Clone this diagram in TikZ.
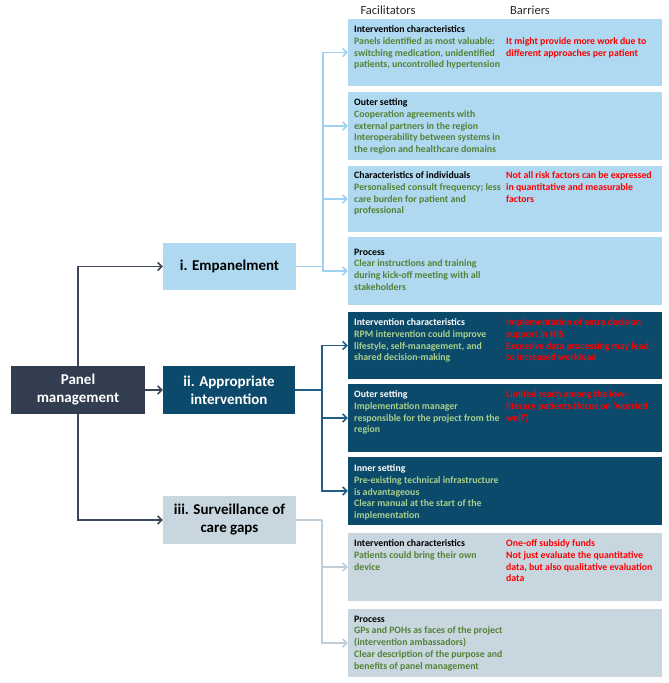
\documentclass[tikz,border=0pt]{standalone}
\usepackage{fontspec}
\setmainfont{Carlito}
\usetikzlibrary{arrows.meta}
\definecolor{lblue}{RGB}{174,217,240}
\definecolor{dblue}{RGB}{12,74,107}
\definecolor{gblue}{RGB}{200,214,224}
\definecolor{pmcol}{RGB}{50,62,80}
\definecolor{gtxt}{RGB}{84,130,53}
\definecolor{lgtxt}{RGB}{169,209,142}
\definecolor{rtxt}{RGB}{255,0,0}
\definecolor{arrmain}{RGB}{59,70,90}
\definecolor{arrl}{RGB}{157,211,240}
\definecolor{arrd}{RGB}{31,95,135}
\definecolor{arrg}{RGB}{190,205,216}
\definecolor{hdr}{RGB}{40,40,40}
\tikzset{
  rbox/.style={minimum width=314pt, inner sep=0pt, draw=none},
  lbox/.style={inner sep=0pt, draw=none, align=center, font=\fontsize{15}{18}\selectfont\bfseries},
  ftxt/.style={anchor=north west, inner sep=0pt, align=left, font=\fontsize{9.8}{11.8}\selectfont\bfseries},
  hdrtxt/.style={inner sep=0pt, text=hdr, font=\fontsize{12.5}{15}\selectfont},
  conn/.style={line width=1.8pt},
  arr/.style={conn, -{Straight Barb[length=4pt,width=8pt,line width=1.6pt]}},
}
\begin{document}
\begin{tikzpicture}[x=1pt,y=-1pt]
\useasboundingbox (0,0) rectangle (669,683);
% headers
\node[hdrtxt] (hf) at (388,10) {Facilitators};
\node[hdrtxt] (hb) at (530,10) {Barriers};
% left boxes
\node[lbox, fill=pmcol, text=white, minimum width=134pt, minimum height=48pt] (pm) at (78,390) {Panel\\management};
\node[lbox, fill=lblue, text=black, minimum width=133pt, minimum height=47pt] (emp) at (229.5,266.5) {i. Empanelment};
\node[lbox, fill=dblue, text=white, minimum width=132pt, minimum height=48pt] (ai) at (229,390) {ii. Appropriate\\intervention};
\node[lbox, fill=gblue, text=black, minimum width=133pt, minimum height=48pt] (sv) at (229.5,520) {iii. Surveillance of\\care gaps};
% right boxes
\node[rbox, fill=lblue, minimum height=67pt] (b1) at (505,52.5) {};
\node[rbox, fill=lblue, minimum height=68pt] (b2) at (505,126) {};
\node[rbox, fill=lblue, minimum height=66pt] (b3) at (505,199) {};
\node[rbox, fill=lblue, minimum height=68pt] (b4) at (505,271) {};
\node[rbox, fill=dblue, minimum height=67pt] (b5) at (505,345.5) {};
\node[rbox, fill=dblue, minimum height=68pt] (b6) at (505,418) {};
\node[rbox, fill=dblue, minimum height=68pt] (b7) at (505,491) {};
\node[rbox, fill=gblue, minimum height=68pt] (b8) at (505,567) {};
\node[rbox, fill=gblue, minimum height=68pt] (b9) at (505,643) {};
% texts b1
\node[ftxt, text=gtxt] (f1) at (354,25.5) {\textcolor{black}{Intervention characteristics}\\Panels identified as most valuable:\\switching medication, unidentified\\patients, uncontrolled hypertension};
\node[ftxt, text=rtxt] (r1) at (506,37.3) {It might provide more work due to\\different approaches per patient};
% b2
\node[ftxt, text=gtxt] (f2) at (354,98.5) {\textcolor{black}{Outer setting}\\Cooperation agreements with\\external partners in the region\\Interoperability between systems in\\the region and healthcare domains};
% b3
\node[ftxt, text=gtxt] (f3) at (354,171.5) {\textcolor{black}{Characteristics of individuals}\\Personalised consult frequency; less\\care burden for patient and\\professional};
\node[ftxt, text=rtxt] (r3) at (506,171.5) {Not all risk factors can be expressed\\in quantitative and measurable\\factors};
% b4
\node[ftxt, text=gtxt] (f4) at (354,248.5) {\textcolor{black}{Process}\\Clear instructions and training\\during kick-off meeting with all\\stakeholders};
% b5
\node[ftxt, text=lgtxt] (f5) at (354,318.5) {\textcolor{white}{Intervention characteristics}\\RPM intervention could improve\\lifestyle, self-management, and\\shared decision-making};
\node[ftxt, text=rtxt] (r5) at (506,318.5) {Implementation of extra decision\\support in HIS\\Excessive data processing may lead\\to increased workload};
% b6
\node[ftxt, text=lgtxt] (f6) at (354,390.5) {\textcolor{white}{Outer setting}\\Implementation manager\\responsible for the project from the\\region};
\node[ftxt, text=rtxt] (r6) at (506,390.5) {Limited reach among the low-\\literacy patients (focus on ‘worried\\well’)};
% b7
\node[ftxt, text=lgtxt] (f7) at (354,464.5) {\textcolor{white}{Inner setting}\\Pre-existing technical infrastructure\\is advantageous\\Clear manual at the start of the\\implementation};
% b8
\node[ftxt, text=gtxt] (f8) at (354,539.5) {\textcolor{black}{Intervention characteristics}\\Patients could bring their own\\device};
\node[ftxt, text=rtxt] (r8) at (506,539.5) {One-off subsidy funds\\Not just evaluate the quantitative\\data, but also qualitative evaluation\\data};
% b9
\node[ftxt, text=gtxt] (f9) at (354,615.5) {\textcolor{black}{Process}\\GPs and POHs as faces of the project\\(intervention ambassadors)\\Clear description of the purpose and\\benefits of panel management};
% main connectors
\draw[arr, arrmain] (pm.north) |- (emp.west);
\draw[arr, arrmain] (pm.east) -- (ai.west);
\draw[arr, arrmain] (pm.south) |- (sv.west);
% branch junctions
\coordinate (j1) at (323,266.5);
\coordinate (j2) at (322,390);
\coordinate (j3) at (322,520);
\draw[conn, arrl] (emp.east) -- (j1);
\foreach \b in {b1,b2,b3,b4} \draw[arr, arrl] (j1) |- (\b.west);
\draw[conn, arrd] (ai.east) -- (j2);
\foreach \b in {b5,b6,b7} \draw[arr, arrd] (j2) |- (\b.west);
\draw[conn, arrg] (sv.east) -- (j3);
\foreach \b in {b8,b9} \draw[arr, arrg] (j3) |- (\b.west);
\end{tikzpicture}
\end{document}
